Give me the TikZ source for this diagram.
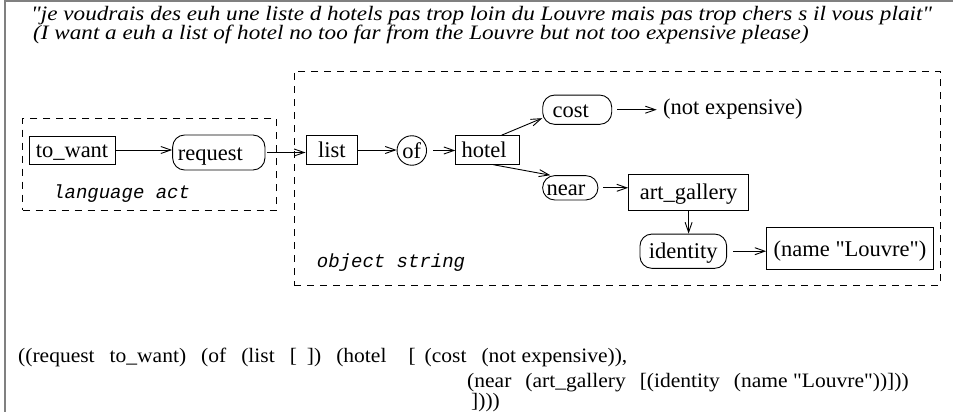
\documentclass[tikz,border=0pt]{standalone}
\usepackage{fontspec}
\setmainfont{Liberation Serif}[Ligatures=TeXOff]
\setmonofont{Liberation Mono}
\newfontfamily\hdrfont{Liberation Serif}[FakeStretch=1.13, Ligatures=TeXOff]
\newfontfamily\frmfont{Liberation Serif}[FakeStretch=1.05, Ligatures=TeXOff]
\usetikzlibrary{arrows.meta,calc}
\newcommand{\gp}{\hspace{15pt}}
\begin{document}
\begin{tikzpicture}[x=1pt,y=-1pt,
  every node/.style={inner sep=0pt, font=\fontsize{22.5}{27}\selectfont},
  nd/.style={line width=0.9pt, text height=17pt, text depth=2pt},
  rect/.style={nd, draw, rectangle},
  rnd/.style={nd, draw, rounded corners=12pt},
  arr/.style={line width=0.9pt, -{Straight Barb[length=10pt,width=7pt]}},
  dashbox/.style={draw, line width=0.8pt, dash pattern=on 7pt off 6pt},
  mono/.style={font=\fontsize{19}{22}\selectfont\ttfamily\itshape},
  hdr/.style={anchor=base west, font=\fontsize{20.5}{24}\selectfont\hdrfont\itshape},
  frm/.style={anchor=base west, font=\fontsize{20.5}{24}\selectfont\frmfont}]
\useasboundingbox (0,0) rectangle (953,412);
\draw[gray, line width=1.2pt] (5,412) -- (5,1) -- (953,1);

% header
\node[hdr] (h1) at (31,21) {"je voudrais des euh une liste d hotels pas trop loin du Louvre mais pas trop chers s il vous plait"};
\node[hdr] (h2) at (33,40) {(I want a euh a list of hotel no too far from the Louvre but not too expensive please)};

% dashed groups
\node[dashbox, minimum width=254, minimum height=91.7] (la) at (149.7,164.15) {};
\node[dashbox, minimum width=646, minimum height=214] (os) at (617,178) {};
\node[mono, anchor=base west] (lat) at (53,198) {language act};
\node[mono, anchor=base west] (ost) at (316.7,267) {object string};

% nodes
\node[rect, minimum width=86, minimum height=28] (towant) at (72,150) {to\_want};
\node[rnd, text width=81.7pt, inner xsep=5.3pt, align=left, minimum height=35] (request) at (218.8,152.5) {request};
\node[rect, minimum width=51.7, minimum height=28.6] (list) at (331.8,150) {list};
\node[nd, draw, circle, minimum size=29.5] (of) at (411.8,150.5) {of};
\node[rect, text width=51.6pt, inner xsep=6pt, align=left, minimum height=28.6] (hotel) at (487.5,150) {hotel};
\node[rnd, text width=49pt, inner xsep=10pt, align=left, minimum height=29.3] (cost) at (577.2,109.7) {cost};
\node[nd, anchor=west] (notexp) at (662.7,107) {(not expensive)};
\node[rnd, text width=47.3pt, inner xsep=4pt, align=left, minimum height=24.3] (near) at (570.3,187.8) {near};
\node[rect, minimum width=120, minimum height=36] (art) at (688.6,192) {art\_gallery};
\node[rnd, minimum width=86.7, minimum height=34.3] (identity) at (683.3,251.2) {identity};
\node[rect, minimum width=166.7, minimum height=41.6] (name) at (850,248.5) {(name "Louvre")};

% connectors
\draw[arr] (towant.east) -- (towant.east -| request.west);
\draw[arr, shorten <=2pt] (request.east) -- (request.east -| list.west);
\draw[arr] (list.east) -- (list.east -| of.west);
\draw[arr, shorten <=6pt] (of.east) -- (of.east -| hotel.west);
\draw[arr] ([xshift=14pt]hotel.north) -- ([yshift=-8.5pt]cost.west);
\draw[arr] ([xshift=6pt]hotel.south) -- ([xshift=-20pt]near.north);
\draw[arr, shorten <=5pt, shorten >=6pt] (cost.east) -- (cost.east -| notexp.west);
\draw[arr, shorten <=5pt] (near.east) -- (near.east -| art.west);
\draw[arr] (art.south) -- (art.south |- identity.north);
\draw[arr, shorten <=6pt] (identity.east) -- (identity.east -| name.west);

% formula
\node[frm] (f1) at (18,362) {((request\gp to\_want)\gp (of\gp (list\gp [\hspace{10pt}])\gp (hotel\hspace{22pt}[\hspace{9pt}(cost\gp (not expensive)),};
\node[frm] (f2) at (467,387) {(near\hspace{14pt}(art\_gallery\hspace{14pt}[(identity\hspace{14pt}(name "Louvre"))]))};
\node[frm] (f3) at (471,407.5) {])))};
\end{tikzpicture}
\end{document}
